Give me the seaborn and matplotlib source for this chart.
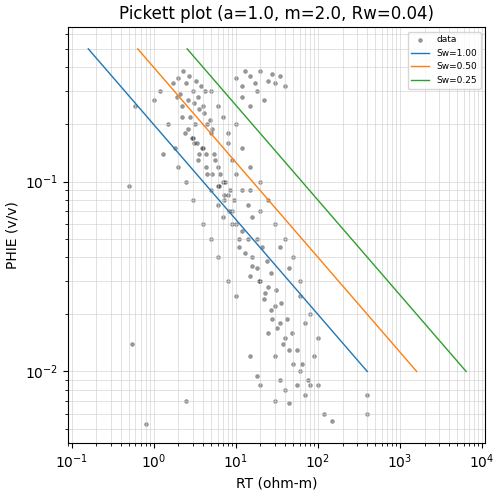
import numpy as np
import pandas as pd
import matplotlib
matplotlib.use("Agg")
import matplotlib.pyplot as plt
import seaborn as sns

a, m, n, Rw = 1.0, 2.0, 2.0, 0.04
sw_values = [1.00, 0.50, 0.25]

rt = [2,2.5,3,3.5,4,2.2,2.8,3.2,4.5,5,3,4,5.5,6,3.5,4.5,7,5,8,6,9,10,7,12,14,11,16,18,20,15,25,22,30,28,35,25,40,45,30,50,60,35,40,55,70,30,45,80,100,120,20,18,15,
      1.2,1.5,1.8,2,2.5,3,4,5,6,8,10,0.5,0.55,0.8,2.5,1,0.6,1.3,
      10,12,15,18,20,25,30,35,40,22,15,12,28,17,13,
      10,12,15,8,20,25,30,40,50,60,80,100,60,45,35,70,90,20,15,400,400,150,
      2.3,2.7,3.3,3.8,4.2,2.1,2.6,3.1,3.6,4.1,4.8,5.2,2.4,2.9,3.4,3.9,4.4,5.6,6.5,7.5,8.5,9.5,6.2,7.2,
      1.7,1.9,2.2,2.6,3.1,3.6,4.3,5.1,6.1,7.1,8.2,9.1,11,13,16,19,23,27,32,38,
      5,6,7,8,9,10,12,14,16,18,21,24,27,31,36,42,48,55,65,75]
phie = [0.35,0.33,0.3,0.28,0.25,0.25,0.22,0.2,0.2,0.18,0.17,0.15,0.14,0.12,0.13,0.11,0.1,0.09,0.085,0.075,0.07,0.06,0.065,0.055,0.05,0.045,0.04,0.035,0.03,0.032,0.028,0.024,0.022,0.019,0.018,0.016,0.015,0.013,0.012,0.011,0.01,0.009,0.008,0.0085,0.0075,0.007,0.0068,0.0085,0.0085,0.006,0.0085,0.0095,0.012,
        0.3,0.2,0.15,0.12,0.1,0.08,0.06,0.05,0.04,0.03,0.025,0.095,0.014,0.0053,0.007,0.27,0.25,0.14,
        0.35,0.32,0.36,0.3,0.38,0.34,0.33,0.36,0.32,0.27,0.25,0.28,0.37,0.33,0.38,
        0.2,0.15,0.12,0.18,0.1,0.08,0.06,0.05,0.04,0.03,0.02,0.015,0.025,0.035,0.045,0.018,0.012,0.07,0.09,0.006,0.0075,0.0055,
        0.38,0.36,0.34,0.32,0.3,0.29,0.27,0.26,0.24,0.23,0.21,0.19,0.18,0.17,0.16,0.15,0.14,0.13,0.11,0.1,0.09,0.08,0.095,0.085,
        0.33,0.28,0.22,0.19,0.16,0.14,0.12,0.11,0.095,0.08,0.07,0.06,0.05,0.042,0.036,0.03,0.026,0.021,0.017,0.014,
        0.3,0.25,0.22,0.16,0.13,0.11,0.09,0.075,0.065,0.05,0.045,0.038,0.033,0.027,0.023,0.019,0.016,0.013,0.011,0.009]

df = pd.DataFrame({"RT": rt, "PHIE": phie})

fig, ax = plt.subplots(figsize=(5.02, 4.95), dpi=100)
sns.scatterplot(data=df, x="RT", y="PHIE", color="black", alpha=0.4, s=8,
                edgecolor="black", linewidth=0.3, ax=ax, label="data")
phi_line = np.array([0.5, 0.01])
colors = ["#1f77b4", "#ff7f0e", "#2ca02c"]
for sw, c in zip(sw_values, colors):
    rt_line = a * Rw / (phi_line ** m * sw ** n)
    sns.lineplot(x=rt_line, y=phi_line, color=c, linewidth=1, ax=ax,
                 label=f"Sw={sw:.2f}", sort=False)
ax.set_xscale("log")
ax.set_yscale("log")
ax.set_xlim(0.09, 11000)
ax.set_ylim(0.0042, 0.65)
ax.grid(True, which="both", color="#cccccc", linewidth=0.5, alpha=0.8)
ax.set_xlabel("RT (ohm-m)")
ax.set_ylabel("PHIE (v/v)")
ax.set_title("Pickett plot (a=1.0, m=2.0, Rw=0.04)")
ax.legend(loc="upper right", fontsize=6.5)
fig.subplots_adjust(left=0.135, right=0.967, top=0.945, bottom=0.105)
fig.savefig("out.png", dpi=100)
